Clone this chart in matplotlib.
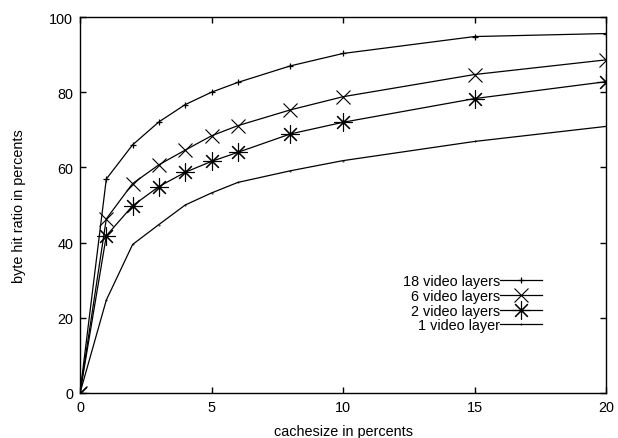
import matplotlib
matplotlib.use('Agg')
import matplotlib.pyplot as plt
import numpy as np

plt.rcParams['font.family'] = ['Liberation Sans', 'DejaVu Sans']
plt.rcParams['font.size'] = 10.4

# cache size in percents
cachesize = [0, 1, 2, 3, 4, 5, 6, 8, 10, 15, 20]
# byte hit ratio in percents
layers18 = [0, 56.9, 66.0, 72.1, 76.7, 80.0, 82.6, 87.0, 90.3, 94.8, 95.6]
layers6 = [0, 46.3, 55.7, 60.7, 64.6, 68.4, 71.1, 75.3, 78.8, 84.7, 88.6]
layers2 = [0, 41.8, 49.8, 54.9, 58.7, 61.6, 64.0, 68.9, 72.0, 78.3, 82.8]
layers1 = [0, 24.7, 39.5, 44.8, 50.0, 53.2, 56.0, 59.1, 61.8, 66.9, 70.9]

labels = ['18 video layers', '6 video layers', '2 video layers', '1 video layer']

fig = plt.figure(figsize=(6.18, 4.39), dpi=100)
ax = fig.add_axes([80/618, 45/439, 526/618, 376/439])

lw = 0.9
ax.plot(cachesize, layers18, color='black', lw=lw, marker='+', ms=5, mew=0.9, label=labels[0])
ax.plot(cachesize, layers6, color='black', lw=lw, marker='x', ms=10, mew=0.8, label=labels[1])
ax.plot(cachesize, layers2, color='black', lw=lw, marker=(8, 2, 0), ms=13, mew=0.8, label=labels[2])
ax.plot(cachesize, layers1, color='black', lw=lw, marker='.', ms=0.8, label=labels[3])

ax.set_xlim(0, 20)
ax.set_ylim(0, 100)
ax.set_xticks([0, 5, 10, 15, 20])
ax.set_yticks([0, 20, 40, 60, 80, 100])
ax.tick_params(direction='in', length=4, width=1, top=True, right=True, pad=5)
for s in ax.spines.values():
    s.set_linewidth(1)

ax.set_xlabel('cachesize in percents', labelpad=7)
ax.set_ylabel('byte hit ratio in percents', labelpad=17)

ax.legend(loc='upper right', bbox_to_anchor=(0.878, 0.316), frameon=False,
          markerfirst=False, borderpad=0, handlelength=2.9, handletextpad=0.0,
          labelspacing=0.05, borderaxespad=0)

fig.savefig('out.png', dpi=100)
